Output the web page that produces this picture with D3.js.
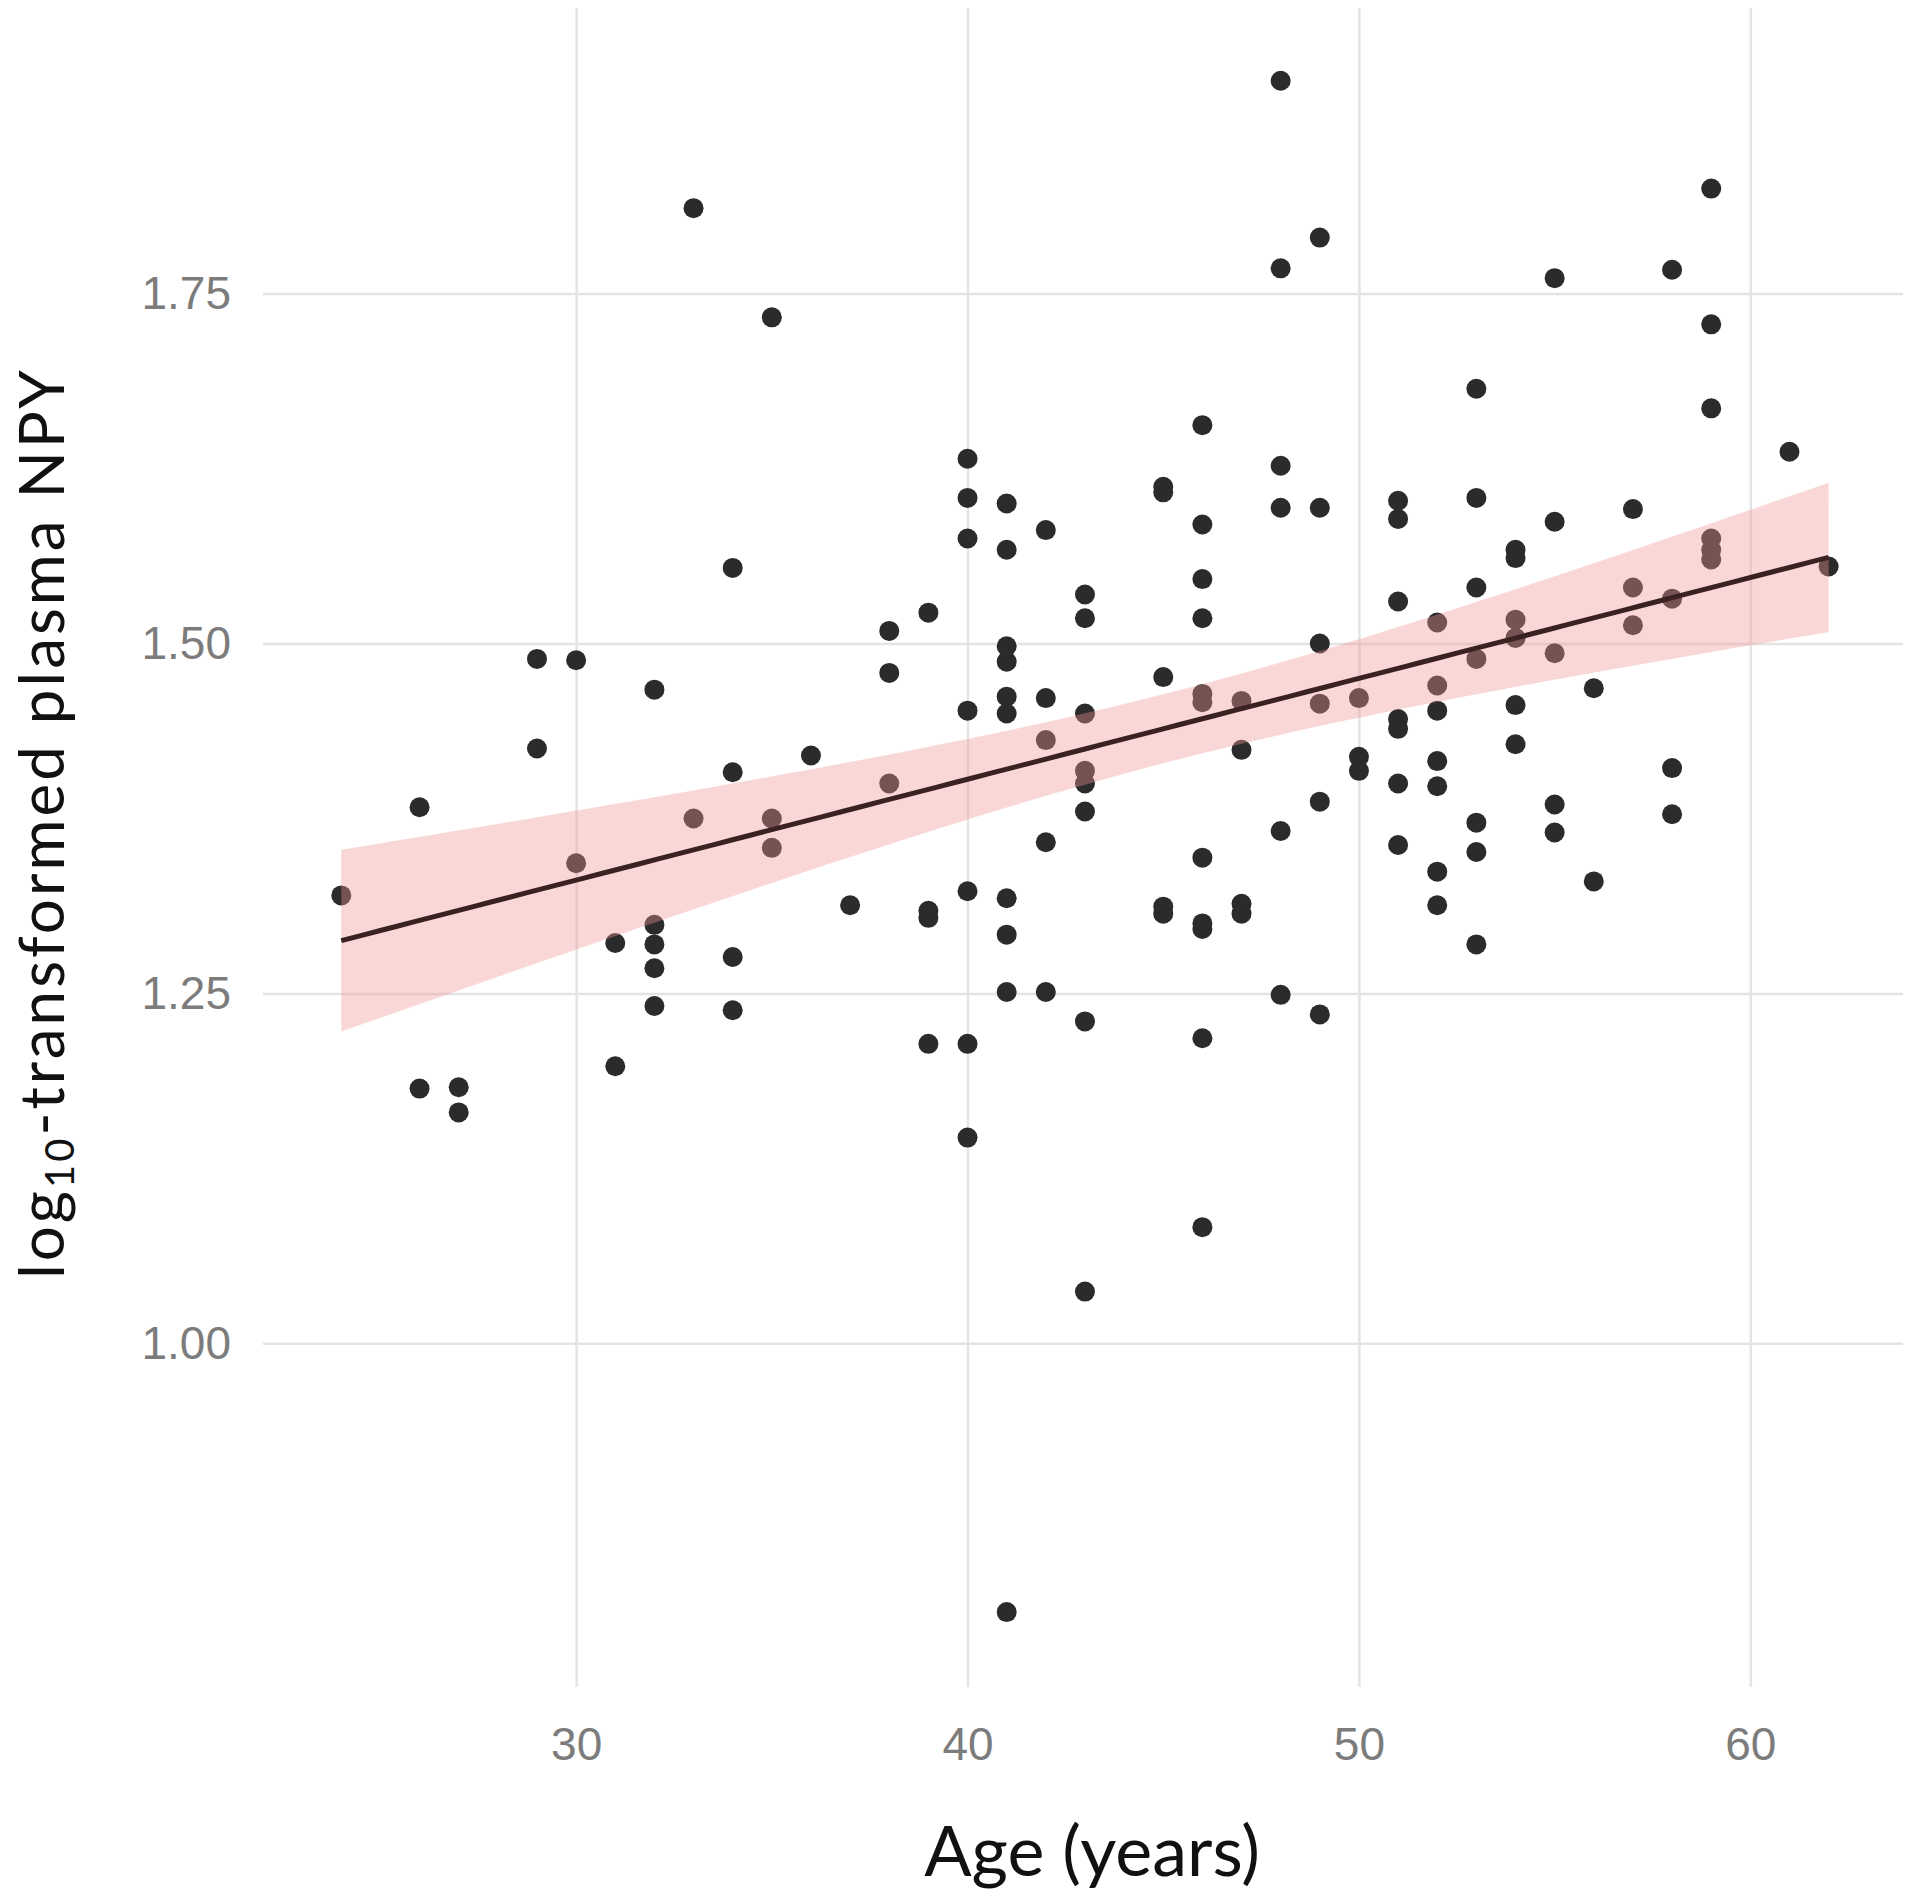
<!DOCTYPE html>
<html>
<head>
<meta charset="utf-8">
<script src="https://cdn.jsdelivr.net/npm/d3@7"></script>
<style>
  body { margin: 0; background: #fff; }
  svg { display: block; }
</style>
</head>
<body>
<svg id="chart" width="1924" height="1900"></svg>
<script>
// Age of each participant and their log10 plasma NPY
const age = [
  24,
  26, 26,
  27, 27,
  29, 29,
  30, 30,
  31, 31,
  32, 32, 32, 32, 32,
  33, 33,
  34, 34, 34, 34,
  35, 35, 35,
  36,
  37,
  38, 38, 38,
  39, 39, 39, 39,
  40, 40, 40, 40, 40, 40, 40,
  41, 41, 41, 41, 41, 41, 41, 41, 41, 41,
  42, 42, 42, 42, 42,
  43, 43, 43, 43, 43, 43, 43, 43,
  45, 45, 45, 45, 45,
  46, 46, 46, 46, 46, 46, 46, 46, 46, 46, 46,
  47, 47, 47, 47,
  48, 48, 48, 48, 48, 48,
  49, 49, 49, 49, 49, 49,
  50, 50, 50,
  51, 51, 51, 51, 51, 51, 51,
  52, 52, 52, 52, 52, 52, 52,
  53, 53, 53, 53, 53, 53, 53,
  54, 54, 54, 54, 54, 54,
  55, 55, 55, 55, 55,
  56, 56,
  57, 57, 57,
  58, 58, 58, 58,
  59, 59, 59, 59, 59, 59,
  61,
  62
]
const npy = [
  1.320,
  1.383, 1.182,
  1.183, 1.165,
  1.489, 1.425,
  1.488, 1.343,
  1.286, 1.198,
  1.467, 1.299, 1.285, 1.268, 1.241,
  1.811, 1.375,
  1.554, 1.408, 1.276, 1.238,
  1.733, 1.375, 1.354,
  1.420,
  1.313,
  1.509, 1.479, 1.400,
  1.522, 1.309, 1.304, 1.214,
  1.632, 1.604, 1.575, 1.452, 1.323, 1.214, 1.147,
  1.600, 1.567, 1.498, 1.487, 1.462, 1.450, 1.318, 1.292, 1.251, 0.808,
  1.581, 1.461, 1.431, 1.358, 1.251,
  1.535, 1.518, 1.450, 1.409, 1.400, 1.380, 1.230, 1.037,
  1.612, 1.608, 1.476, 1.312, 1.307,
  1.656, 1.585, 1.546, 1.518, 1.464, 1.458, 1.347, 1.300, 1.296, 1.218, 1.083,
  1.459, 1.424, 1.314, 1.307,
  1.902, 1.768, 1.627, 1.597, 1.366, 1.249,
  1.790, 1.597, 1.500, 1.457, 1.387, 1.235,
  1.461, 1.419, 1.409,
  1.602, 1.589, 1.530, 1.446, 1.439, 1.400, 1.356,
  1.515, 1.470, 1.452, 1.416, 1.398, 1.337, 1.313,
  1.682, 1.604, 1.540, 1.489, 1.372, 1.351, 1.285,
  1.567, 1.561, 1.517, 1.504, 1.456, 1.428,
  1.761, 1.587, 1.493, 1.385, 1.365,
  1.468, 1.330,
  1.596, 1.540, 1.513,
  1.767, 1.532, 1.411, 1.378,
  1.825, 1.728, 1.668, 1.575, 1.567, 1.560,
  1.637,
  1.555
]

const xTicks = [30, 40, 50, 60]
const yTicks = [1.00, 1.25, 1.50, 1.75]
const xTitle = "Age (years)"

const svg = d3.select("#chart")
const panel = { left: 263, right: 1903, top: 8, bottom: 1687 }

const x = d3.scaleLinear().domain([22, 63.9]).range([panel.left, panel.right])
const y = d3.scaleLinear().domain([0.7545, 1.954]).range([panel.bottom, panel.top])

// Gridlines + tick labels come straight from the axes
const yAxis = svg.append("g")
  .attr("transform", `translate(${panel.left},0)`)
  .call(d3.axisLeft(y)
    .tickValues(yTicks)
    .tickFormat(d3.format(".2f"))
    .tickSize(-(panel.right - panel.left))
    .tickPadding(32))
const xAxis = svg.append("g")
  .attr("transform", `translate(0,${panel.bottom})`)
  .call(d3.axisBottom(x)
    .tickValues(xTicks)
    .tickSize(-(panel.bottom - panel.top))
    .tickPadding(40))

for (const ax of [xAxis, yAxis]) {
  ax.select(".domain").remove()
  ax.selectAll(".tick line").attr("stroke", "#e4e4e4").attr("stroke-width", 2.5)
  ax.selectAll(".tick text")
    .attr("fill", "#7c7c7c")
    .attr("font-family", "Liberation Sans, Arial, sans-serif")
    .attr("font-size", 46)
}

// Points
const pts = age.map((a, i) => ({ age: a, npy: npy[i] }))
svg.append("g")
  .selectAll("circle")
  .data(pts)
  .enter()
  .append("circle")
  .attr("cx", d => x(d.age))
  .attr("cy", d => y(d.npy))
  .attr("r", 10)
  .attr("fill", "#2b2b2b")

// Linear fit with 95% confidence band (like geom_smooth(method = "lm"))
const n = pts.length
const mx = d3.mean(age), my = d3.mean(npy)
const sxx = d3.sum(age, a => (a - mx) ** 2)
const sxy = d3.sum(pts, d => (d.age - mx) * (d.npy - my))
const slope = sxy / sxx
const intercept = my - slope * mx
const s = Math.sqrt(d3.sum(pts, d => (d.npy - intercept - slope * d.age) ** 2) / (n - 2))
const tq = 1.976

const [a0, a1] = d3.extent(age)
const grid = d3.range(0, 81).map(i => a0 + (a1 - a0) * i / 80)
const fit = grid.map(a => {
  const m = intercept + slope * a
  const se = s * Math.sqrt(1 / n + (a - mx) ** 2 / sxx)
  return { age: a, fit: m, lo: m - tq * se, hi: m + tq * se }
})

svg.append("path")
  .datum(fit)
  .attr("d", d3.area().x(d => x(d.age)).y0(d => y(d.lo)).y1(d => y(d.hi)))
  .attr("fill", "rgb(242,150,150)")
  .attr("fill-opacity", 0.38)

svg.append("path")
  .datum(fit)
  .attr("d", d3.line().x(d => x(d.age)).y(d => y(d.fit)))
  .attr("fill", "none")
  .attr("stroke", "#3a2222")
  .attr("stroke-width", 5)

// Axis titles
svg.append("text")
  .attr("x", 1092)
  .attr("y", 1876)
  .attr("text-anchor", "middle")
  .attr("font-family", "Lato, sans-serif")
  .attr("font-size", 70)
  .attr("fill", "#111")
  .text(xTitle)

const yTitle = svg.append("text")
  .attr("transform", "translate(64,823) rotate(-90)")
  .attr("text-anchor", "middle")
  .attr("font-family", "Lato, sans-serif")
  .attr("font-size", 62)
  .attr("letter-spacing", 3)
  .attr("fill", "#111")
yTitle.append("tspan").text("log")
yTitle.append("tspan").attr("font-size", 40).attr("dy", 10).text("10")
yTitle.append("tspan").attr("dy", -10).text("-transformed plasma NPY")
</script>
</body>
</html>
